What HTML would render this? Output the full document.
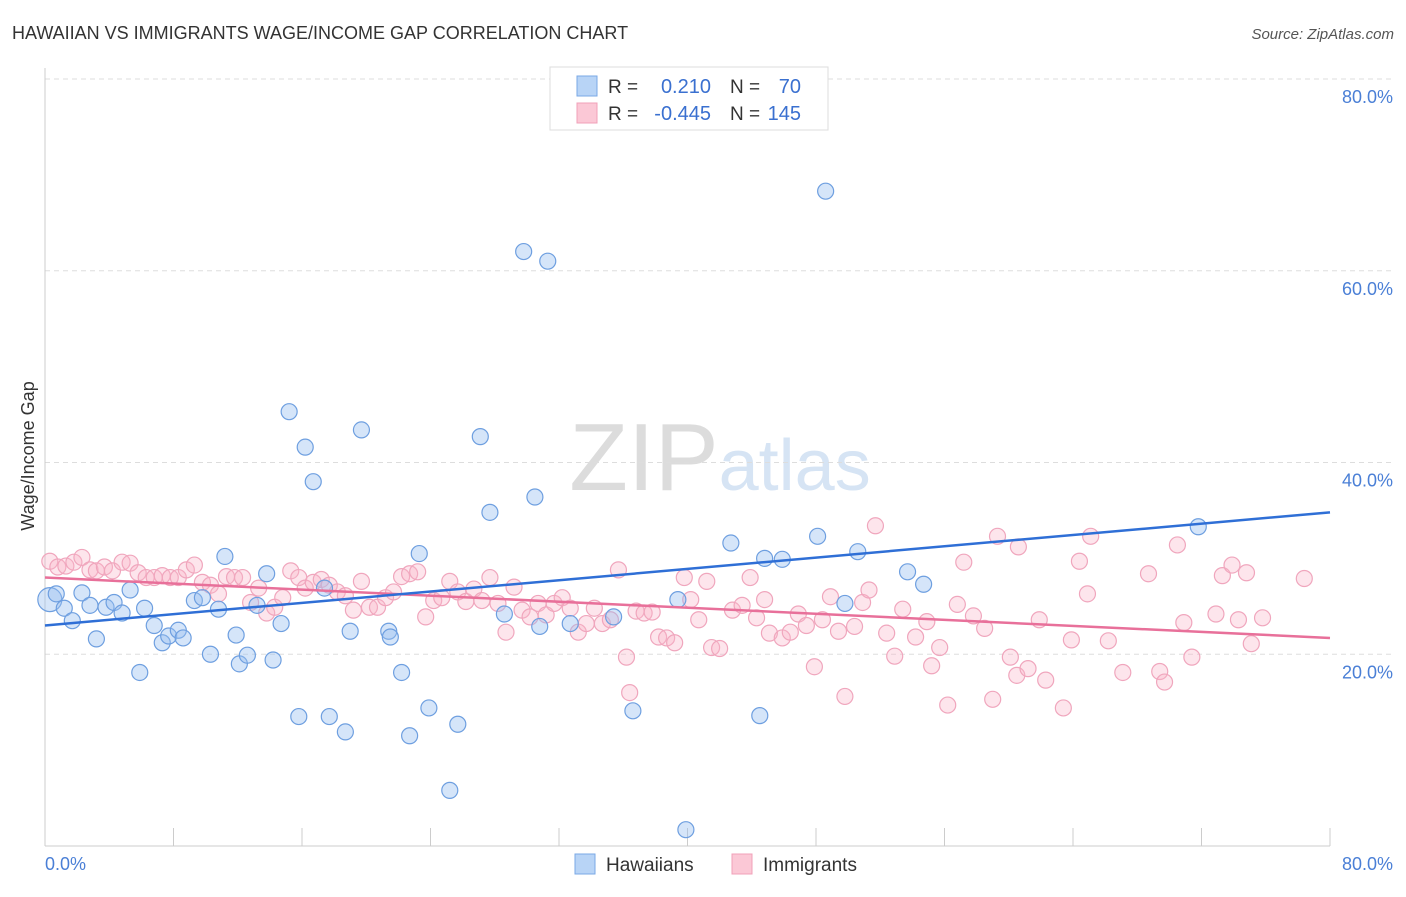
<!DOCTYPE html>
<html><head><meta charset="utf-8"><style>
body{margin:0;background:#fff;font-family:"Liberation Sans",sans-serif;}
svg text{font-family:"Liberation Sans",sans-serif;}
</style></head><body>
<svg id="chart" width="1406" height="892" viewBox="0 0 1406 892" xmlns="http://www.w3.org/2000/svg">
<text x="12" y="39" font-size="18" fill="#333">HAWAIIAN VS IMMIGRANTS WAGE/INCOME GAP CORRELATION CHART</text>
<text x="1394" y="39" font-size="15" fill="#555" text-anchor="end" font-style="italic">Source: ZipAtlas.com</text>
<text x="720" y="490" font-size="96" text-anchor="middle" fill="#e4e4e4" font-family="Liberation Serif"><tspan fill="#dcdcdc">ZIP</tspan><tspan fill="#d6e4f4" font-family="Liberation Sans" font-size="72">atlas</tspan></text>
<g id="grid"></g>
<g id="axes"></g>
<g id="marks"></g>
<text transform="translate(34,456) rotate(-90)" font-size="18" fill="#333" text-anchor="middle">Wage/Income Gap</text>
<g>
<rect x="550" y="67" width="278" height="63" fill="#fff" stroke="#ddd"/>
<rect x="577" y="76" width="20" height="20" fill="#b8d4f6" stroke="#7aa8e6"/>
<rect x="577" y="103" width="20" height="20" fill="#fbc8d6" stroke="#f0a0b8"/>
<text x="608" y="93" font-size="19" fill="#333">R =</text><text x="711" y="93" font-size="20" fill="#3a70d0" text-anchor="end">0.210</text>
<text x="730" y="93" font-size="19" fill="#333">N =</text><text x="801" y="93" font-size="20" fill="#3a70d0" text-anchor="end">70</text>
<text x="608" y="120" font-size="19" fill="#333">R =</text><text x="711" y="120" font-size="20" fill="#3a70d0" text-anchor="end">-0.445</text>
<text x="730" y="120" font-size="19" fill="#333">N =</text><text x="801" y="120" font-size="20" fill="#3a70d0" text-anchor="end">145</text>
</g>
<g>
<rect x="575" y="854" width="20" height="20" fill="#b8d4f6" stroke="#7aa8e6"/>
<text x="606" y="871" font-size="19" fill="#333">Hawaiians</text>
<rect x="732" y="854" width="20" height="20" fill="#fbc8d6" stroke="#f0a0b8"/>
<text x="763" y="871" font-size="19" fill="#333">Immigrants</text>
</g>
</svg>
<script>
const blueX=[0.3,0.7,1.2,1.7,2.3,2.8,3.2,3.8,4.3,4.8,5.3,5.9,6.2,6.8,7.3,7.7,8.3,8.6,9.3,9.8,10.3,10.8,11.2,11.9,12.1,12.6,13.2,13.8,14.2,14.7,15.2,15.8,16.2,16.7,17.4,17.7,18.7,19.0,19.7,21.4,21.5,22.2,22.7,23.3,23.9,25.2,25.7,27.1,27.7,28.6,29.8,30.5,30.8,31.3,32.7,35.4,36.6,39.4,39.9,42.7,44.5,44.8,45.9,48.1,48.6,49.8,50.6,53.7,54.7,71.8];
const blueY=[25.7,26.3,24.8,23.5,26.4,25.1,21.6,24.9,25.4,24.3,26.7,18.1,24.8,23.0,21.2,21.9,22.5,21.7,25.6,25.9,20.0,24.7,30.2,22.0,19.0,19.9,25.1,28.4,19.4,23.2,45.3,13.5,41.6,38.0,26.9,13.5,11.9,22.4,43.4,22.4,21.8,18.1,11.5,30.5,14.4,5.8,12.7,42.7,34.8,24.2,62.0,36.4,22.9,61.0,23.2,23.9,14.1,25.7,1.7,31.6,13.6,30.0,29.9,32.3,68.3,25.3,30.7,28.6,27.3,33.3];
const pinkX=[0.3,0.8,1.3,1.8,2.3,2.8,3.2,3.7,4.2,4.8,5.3,5.8,6.3,6.8,7.3,7.8,8.3,8.8,9.3,9.8,10.3,10.8,11.3,11.8,12.3,12.8,13.3,13.8,14.3,14.8,15.3,15.8,16.2,16.7,17.2,17.7,18.2,18.7,19.2,19.7,20.2,20.7,21.2,21.7,22.2,22.7,23.2,23.7,24.2,24.7,25.2,25.7,26.2,26.7,27.2,27.7,28.2,28.7,29.2,29.7,30.2,30.7,31.2,31.7,32.2,32.7,33.2,33.7,34.2,34.7,35.2,35.7,36.2,36.4,36.8,37.3,37.8,38.2,38.7,39.2,39.8,40.2,40.7,41.2,41.5,42.0,42.8,43.4,43.9,44.3,44.8,45.1,45.9,46.4,46.9,47.4,47.9,48.4,48.9,49.4,49.8,50.4,50.9,51.3,51.7,52.4,52.9,53.4,54.2,54.9,55.2,55.7,56.2,56.8,57.2,57.8,58.5,59.0,59.3,60.1,60.5,60.6,61.2,61.9,62.3,63.4,63.9,64.4,64.9,65.1,66.2,67.1,68.7,69.4,69.7,70.5,70.9,71.4,72.9,73.3,73.9,74.3,74.8,75.1,75.8,78.4];
const pinkY=[29.7,29.1,29.2,29.6,30.1,28.8,28.7,29.1,28.7,29.6,29.5,28.5,28.0,28.0,28.2,28.0,28.0,28.8,29.3,27.5,27.2,26.3,28.1,28.0,28.0,25.4,26.9,24.3,24.9,25.9,28.7,28.0,26.9,27.5,27.8,27.2,26.5,26.1,24.6,27.6,24.9,24.9,25.9,26.5,28.1,28.4,28.6,23.9,25.6,25.9,27.6,26.5,25.5,26.8,25.6,28.0,25.3,22.3,27.0,24.6,23.9,25.3,24.1,25.3,25.9,24.8,22.3,23.2,24.8,23.2,23.6,28.8,19.7,16.0,24.5,24.3,24.4,21.8,21.7,21.2,28.0,25.7,23.6,27.6,20.7,20.6,24.6,25.1,28.0,23.8,25.7,22.2,21.7,22.3,24.2,23.0,18.7,23.6,26.0,22.4,15.6,22.9,25.4,26.7,33.4,22.2,19.8,24.7,21.8,23.4,18.8,20.7,14.7,25.2,29.6,24.0,22.7,15.3,32.3,19.7,17.8,31.2,18.5,23.6,17.3,14.4,21.5,29.7,26.3,32.3,21.4,18.1,28.4,18.2,17.1,31.4,23.3,19.7,24.2,28.2,29.3,23.6,28.5,21.1,23.8,27.9];
const blueTrend=[23.0,34.8];
const pinkTrend=[28.0,21.7];
const yTicks=[20,40,60,80];
const yTickLabels=["20.0%","40.0%","60.0%","80.0%"];
const xTicks=[0,8,16,24,32,40,48,56,64,72,80];

const NS="http://www.w3.org/2000/svg";
const X0=45,X1=1330,YB=846,YT=79;
function sx(v){return X0+(v/80)*(X1-X0);}
function sy(v){return YB-(v/80)*(YB-YT);}
function mk(tag,attrs,parent){const e=document.createElementNS(NS,tag);for(const k in attrs)e.setAttribute(k,attrs[k]);parent.appendChild(e);return e;}
const grid=document.getElementById('grid'),axes=document.getElementById('axes'),marks=document.getElementById('marks');
yTicks.forEach((t,i)=>{
  const l=mk('line',{x1:X0,x2:1394,y1:sy(t),y2:sy(t),stroke:'#ddd','stroke-dasharray':'5,4'},grid);
  
  
  const tx=mk('text',{x:1393,y:sy(t)+24,'font-size':18,fill:'#4a7fd6','text-anchor':'end'},axes);
  tx.textContent=yTickLabels[i];
  
  
});
const ax=mk('line',{x1:X0,x2:X0,y1:68,y2:YB,stroke:'#ccc'},axes);


const bx=mk('line',{x1:X0,x2:X1,y1:YB,y2:YB,stroke:'#ccc'},axes);


xTicks.forEach(t=>{
  const l=mk('line',{x1:sx(t),x2:sx(t),y1:828,y2:YB,stroke:'#ccc'},axes);
  
  
});
const xl=mk('text',{x:45,y:870,'font-size':18,fill:'#4a7fd6'},axes);xl.textContent='0.0%';


const xr=mk('text',{x:1393,y:870,'font-size':18,fill:'#4a7fd6','text-anchor':'end'},axes);xr.textContent='80.0%';


pinkX.forEach((x,i)=>{
  const c=mk('circle',{cx:sx(x),cy:sy(pinkY[i]),r:8,fill:'rgba(248,180,200,0.35)',stroke:'#f0a6bd','stroke-width':1.2},marks);
  
  
});
blueX.forEach((x,i)=>{
  const c=mk('circle',{cx:sx(x),cy:sy(blueY[i]),r:i===0?12:8,fill:'rgba(150,190,240,0.4)',stroke:'#6e9fe0','stroke-width':1.2},marks);
  
  
});
const pl=mk('line',{x1:sx(0),y1:sy(pinkTrend[0]),x2:sx(80),y2:sy(pinkTrend[1]),stroke:'#e8709a','stroke-width':2.5},marks);


const bl=mk('line',{x1:sx(0),y1:sy(blueTrend[0]),x2:sx(80),y2:sy(blueTrend[1]),stroke:'#2f6fd6','stroke-width':2.5},marks);


</script>
</body></html>
